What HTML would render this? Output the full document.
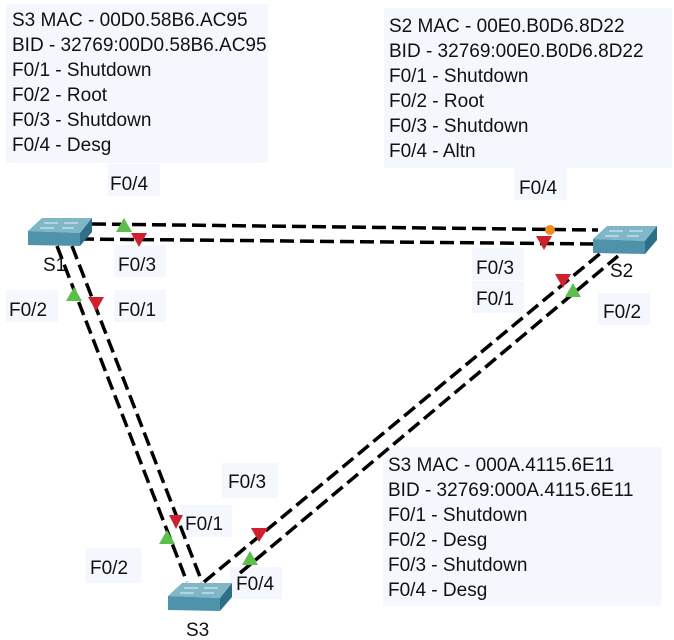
<!DOCTYPE html>
<html><head><meta charset="utf-8"><style>
body{margin:0;background:#fff;width:674px;height:640px;overflow:hidden}
svg{display:block}
text{font-family:"Liberation Sans",Arial,sans-serif;font-size:19px;fill:#111}
</style></head><body>
<svg width="674" height="640" viewBox="0 0 674 640" xmlns="http://www.w3.org/2000/svg">
<defs>
<g id="sw">
<polygon points="0,13 14,0 64,0 52,15" fill="#7fb7c9"/>
<polygon points="0,13 52,15 52,28 0,27" fill="#4f93ab"/>
<polygon points="52,15 64,0 64,14 52,28" fill="#2d6f86"/>
<g stroke="#e6f3f8" stroke-width="1"><line x1="16" y1="5" x2="30" y2="5"/><line x1="36" y1="5" x2="50" y2="5"/><line x1="12" y1="10" x2="26" y2="10"/><line x1="34" y1="10" x2="46" y2="10"/></g>
</g>
</defs>
<rect x="6" y="4" width="262" height="159" fill="#f5f7fe"/>
<rect x="384" y="8" width="288" height="160" fill="#f5f7fe"/>
<rect x="383" y="447" width="278" height="159" fill="#f5f7fe"/>
<g>
<text x="12" y="26">S3 MAC - 00D0.58B6.AC95</text>
<text x="12" y="51">BID - 32769:00D0.58B6.AC95</text>
<text x="12" y="76">F0/1 - Shutdown</text>
<text x="12" y="101">F0/2 - Root</text>
<text x="12" y="126">F0/3 - Shutdown</text>
<text x="12" y="151">F0/4 - Desg</text>
<text x="389" y="32">S2 MAC - 00E0.B0D6.8D22</text>
<text x="389" y="57">BID - 32769:00E0.B0D6.8D22</text>
<text x="389" y="82">F0/1 - Shutdown</text>
<text x="389" y="107">F0/2 - Root</text>
<text x="389" y="132">F0/3 - Shutdown</text>
<text x="389" y="157">F0/4 - Altn</text>
<text x="388" y="471">S3 MAC - 000A.4115.6E11</text>
<text x="388" y="496">BID - 32769:000A.4115.6E11</text>
<text x="388" y="521">F0/1 - Shutdown</text>
<text x="388" y="546">F0/2 - Desg</text>
<text x="388" y="571">F0/3 - Shutdown</text>
<text x="388" y="596">F0/4 - Desg</text>
</g>
<g fill="#f5f7fe">
<rect x="108" y="164" width="52" height="32"/><rect x="114" y="245" width="52" height="32"/>
<rect x="515" y="168" width="52" height="32"/><rect x="472" y="248" width="52" height="32"/>
<rect x="472" y="281" width="52" height="32"/><rect x="598" y="293" width="52" height="32"/>
<rect x="6" y="290" width="52" height="32"/><rect x="114" y="290" width="52" height="32"/>
<rect x="222" y="463" width="56" height="35"/><rect x="180" y="505" width="52" height="32"/>
<rect x="85" y="548" width="56" height="35"/><rect x="230" y="567" width="52" height="32"/>
</g>
<g stroke="#000" stroke-width="3.5" stroke-dasharray="14,6" fill="none">
<line x1="92" y1="224" x2="598" y2="230"/>
<line x1="80" y1="239" x2="598" y2="244"/>
<line x1="57" y1="246" x2="187" y2="582"/>
<line x1="72" y1="246" x2="202" y2="582"/>
<line x1="204" y1="582" x2="602" y2="252"/>
<line x1="240" y1="573" x2="618" y2="256"/>
</g>
<use href="#sw" x="28" y="218"/>
<use href="#sw" x="593" y="226"/>
<use href="#sw" x="168" y="583"/>
<g fill="#5cbf4a">
<polygon points="124,218 116,232 132,232"/>
<polygon points="74,287 66,301 82,301"/>
<polygon points="573,283 565,297 581,297"/>
<polygon points="167,530 159,544 175,544"/>
<polygon points="250,551 242,565 258,565"/>
</g>
<g fill="#d0202e">
<polygon points="131,233 147,233 139,247"/>
<polygon points="88,297 104,297 96,311"/>
<polygon points="536,236 552,236 544,250"/>
<polygon points="555,274 571,274 563,288"/>
<polygon points="169,515 183,515 176,529"/>
<polygon points="251,528 268,528 259,542"/>
</g>
<circle cx="550" cy="230" r="5" fill="#f28a1a"/>
<text x="110" y="190">F0/4</text>
<text x="118" y="271">F0/3</text>
<text x="519" y="194">F0/4</text>
<text x="476" y="274">F0/3</text>
<text x="476" y="305">F0/1</text>
<text x="603" y="318">F0/2</text>
<text x="9" y="316">F0/2</text>
<text x="118" y="316">F0/1</text>
<text x="228" y="488">F0/3</text>
<text x="185" y="530">F0/1</text>
<text x="90" y="574">F0/2</text>
<text x="236" y="590">F0/4</text>
<text x="43" y="271">S1</text>
<text x="610" y="277">S2</text>
<text x="186" y="636">S3</text>
</svg>
</body></html>
